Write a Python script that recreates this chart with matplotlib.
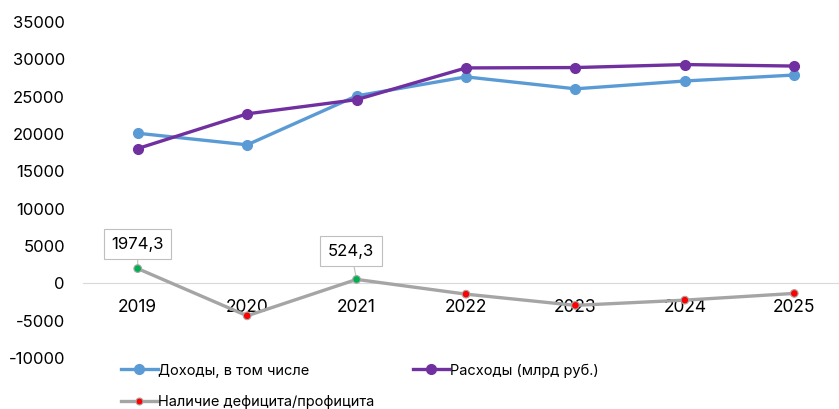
import matplotlib
matplotlib.use('Agg')
import matplotlib.pyplot as plt

plt.rcParams['font.family'] = ['Inter', 'DejaVu Sans']

years = ['2019', '2020', '2021', '2022', '2023', '2024', '2025']
income = [20100, 18550, 25100, 27650, 26050, 27100, 27900]
expense = [18050, 22700, 24600, 28850, 28900, 29300, 29100]
balance = [1974.3, -4350, 524.3, -1450, -2950, -2250, -1350]

yticks = [-10000, -5000, 0, 5000, 10000, 15000, 20000, 25000, 30000, 35000]

fig = plt.figure(figsize=(8.39, 4.09), dpi=100)
ax = fig.add_axes([83 / 839, 51 / 409, 766 / 839, 336 / 409])

x = list(range(len(years)))
l1, = ax.plot(x, income, color='#5B9BD5', lw=2.4, marker='o', ms=7,
              label='Доходы, в том числе', zorder=3)
l2, = ax.plot(x, expense, color='#7030A0', lw=2.4, marker='o', ms=7,
              label='Расходы (млрд руб.)', zorder=3)
l3, = ax.plot(x, balance, color='#A5A5A5', lw=2.4, zorder=3,
              label='Наличие дефицита/профицита', marker='o', ms=5,
              mfc='#FF0000', mec='#A5A5A5', mew=0.8, markevery=[])
pt_colors = ['#00B050' if v > 0 else '#FF0000' for v in balance]
ax.scatter(x, balance, s=30, c=pt_colors, edgecolors='#A5A5A5',
           linewidths=0.8, zorder=4)

# callouts for surplus years
for i, off in [(0, (0, 12)), (2, (-4, 15))]:
    lbl = f'{balance[i]:.1f}'.replace('.', ',')
    ax.annotate(lbl, (x[i], balance[i]), xytext=off, textcoords='offset points',
                ha='center', va='bottom', fontsize=12,
                bbox=dict(boxstyle='square,pad=0.45', fc='white', ec='#BFBFBF', lw=0.8),
                arrowprops=dict(arrowstyle='-', color='#BFBFBF', lw=0.8,
                                shrinkA=0, shrinkB=3))

ax.set_xlim(-0.5, len(years) - 0.5)
ax.set_ylim(-10000, 35000)
ax.set_yticks(yticks)
ax.set_yticklabels([str(v) for v in yticks])
ax.set_xticks(x)
ax.set_xticklabels(years)

for s in ['top', 'right', 'left']:
    ax.spines[s].set_visible(False)
ax.spines['bottom'].set_position(('data', 0))
ax.spines['bottom'].set_color('#D9D9D9')
ax.tick_params(axis='both', length=0)
ax.tick_params(axis='x', pad=11, labelsize=12.5)
ax.tick_params(axis='y', pad=13, labelsize=12)

fig.legend([l1, l3, l2], [l1.get_label(), l3.get_label(), l2.get_label()],
           loc='upper left', bbox_to_anchor=(111 / 839, 1 - 353 / 409),
           ncol=2, frameon=False, fontsize=10.5, handlelength=2.5,
           handletextpad=0.05, columnspacing=2.6, labelspacing=1.2,
           borderpad=0.2)

fig.savefig('out.png', dpi=100)
